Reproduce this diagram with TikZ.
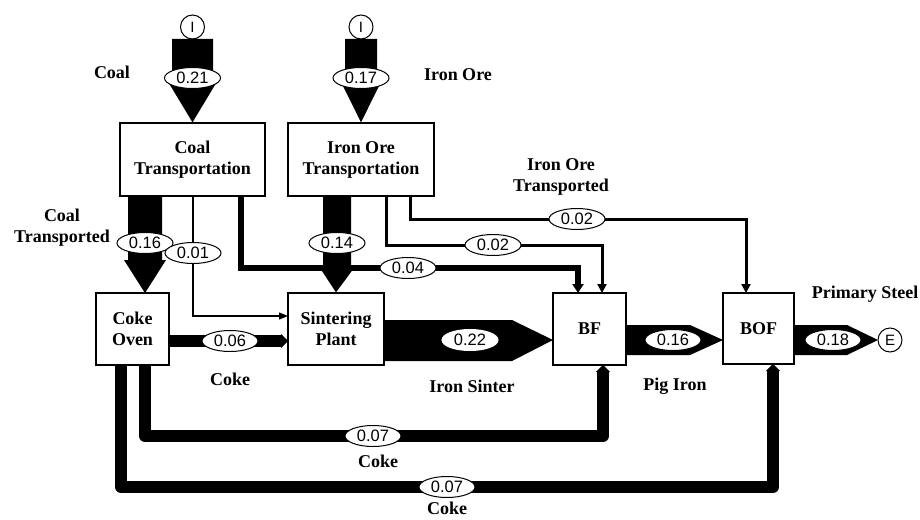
\documentclass[tikz,border=0pt]{standalone}
\usepackage{fontspec}
\setmainfont{Liberation Serif}
\newfontfamily\numfont{Liberation Sans}
\usetikzlibrary{arrows.meta,shapes.geometric}
\begin{document}
\begin{tikzpicture}[x=1pt,y=-1pt,
  proc/.style={draw, line width=1.3pt, fill=white, align=center, inner sep=0pt, font=\fontsize{18}{21}\selectfont\bfseries},
  lbl/.style={align=center, inner sep=0pt, font=\fontsize{18}{21}\selectfont\bfseries},
  val/.style={ellipse, draw, line width=1pt, fill=white, inner sep=0pt, minimum width=56pt, minimum height=21pt, font=\numfont\fontsize{16.5}{16.5}\selectfont},
  term/.style={circle, draw, line width=1pt, fill=white, inner sep=0pt, minimum size=24pt, font=\numfont\fontsize{15}{15}\selectfont},
  thinflow/.style={line width=1.2pt, -{Triangle[length=9pt,width=7pt]}},
  midflow/.style={line width=3pt, -{Triangle[length=9pt,width=9pt]}},
  wideflow/.style={line width=6pt, -{Triangle[length=9pt,width=11pt]}},
  thickflow/.style={line width=12pt, line join=round, -{Triangle[length=7pt,width=14pt]}},
]
\useasboundingbox (0,0) rectangle (920,519);

% process boxes
\node[proc, minimum width=145pt, minimum height=73pt] (ct) at (192.5,159.5) {Coal\\Transportation};
\node[proc, minimum width=146pt, minimum height=73pt] (iot) at (361,159.5) {Iron Ore\\Transportation};
\node[proc, minimum width=73pt, minimum height=72pt] (co) at (132.5,329) {Coke\\Oven};
\node[proc, minimum width=96pt, minimum height=72pt] (sp) at (336,329) {Sintering\\Plant};
\node[proc, minimum width=73pt, minimum height=72pt] (bf) at (589.5,329) {BF};
\node[proc, minimum width=71pt, minimum height=71pt] (bof) at (758.5,328.5) {BOF};

% inputs
\node[term] (in1) at (192.5,27) {I};
\node[term] (in2) at (361,27) {I};
\fill (172,39) -- (213,39) -- (213,80) -- (218,80) -- (ct.north) -- (167,80) -- (172,80) -- cycle;
\fill (345,39) -- (377,39) -- (377,80) -- (382,80) -- (iot.north) -- (340,80) -- (345,80) -- cycle;
\node[val] (v021) at (192.5,78) {0.21};
\node[val] (v017) at (361,78) {0.17};

% coal transported
\fill (128,196) -- (162,196) -- (162,260) -- (166,260) -- (145,293) -- (124,260) -- (128,260) -- cycle;
\coordinate (c01a) at (193,196);
\coordinate (c01b) at (288,316);
\draw[thinflow] (c01a) |- (c01b);
\coordinate (c04a) at (241,196);
\coordinate (c04b) at (578,268);
\coordinate (c04c) at (578,293);
\draw[wideflow] (c04a) |- (c04b) -- (c04c);

% iron ore transported
\fill (323,196) -- (351,196) -- (351,268) -- (354,268) -- (sp.north) -- (320,268) -- (323,268) -- cycle;
\coordinate (c02a) at (386,196);
\coordinate (c02b) at (602,245);
\coordinate (c02c) at (602,293);
\draw[midflow] (c02a) |- (c02b) -- (c02c);
\coordinate (c02d) at (410,196);
\coordinate (c02e) at (746,219);
\coordinate (c02f) at (746,293);
\draw[midflow] (c02d) |- (c02e) -- (c02f);

\node[val] (v016) at (145,243) {0.16};
\node[val] (v001) at (193,253) {0.01};
\node[val] (v014) at (337,243) {0.14};
\node[val] (v004) at (408,268) {0.04};
\node[val] (v002a) at (493,245) {0.02};
\node[val] (v002b) at (577,219) {0.02};

% coke to sintering
\coordinate (c06a) at (169,341);
\coordinate (c06b) at (288,341);
\draw[thickflow] (c06a) -- (c06b);
\node[val] (v006) at (230,341) {0.06};

% iron sinter
\fill (384,320) -- (512,320) -- (553,340) -- (512,361) -- (384,361) -- cycle;
\node[val, draw=white] (v022) at (470,340) {0.22};

% pig iron
\fill (626,325) -- (690,325) -- (723,340) -- (690,355) -- (626,355) -- cycle;
\node[val] (v016b) at (673,340) {0.16};

% primary steel
\fill (794,325) -- (847,325) -- (878,340) -- (847,355) -- (794,355) -- cycle;
\node[term] (out) at (890,340) {E};
\node[val] (v018) at (833,340) {0.18};

% coke loops
\coordinate (l1a) at (145,365);
\coordinate (l1b) at (603,436);
\coordinate (l1c) at (603,365);
\draw[thickflow] (l1a) |- (l1b) -- (l1c);
\coordinate (l2a) at (121,365);
\coordinate (l2b) at (773,487);
\coordinate (l2c) at (773,364);
\draw[thickflow] (l2a) |- (l2b) -- (l2c);
\node[val] (v007a) at (373,436) {0.07};
\node[val] (v007b) at (447,487) {0.07};

% text labels
\node[lbl] (tcoal) at (112,72) {Coal};
\node[lbl] (tore) at (458,75) {Iron Ore};
\node[lbl] (tct) at (62,228) {Coal\\Transported};
\node[lbl] (tiot) at (561,177) {Iron Ore\\Transported};
\node[lbl] (tcoke1) at (230,379) {Coke};
\node[lbl] (tsinter) at (472,386) {Iron Sinter};
\node[lbl] (tpig) at (675,386) {Pig Iron};
\node[lbl] (tsteel) at (865,294) {Primary Steel};
\node[lbl] (tcoke2) at (378,461) {Coke};
\node[lbl] (tcoke3) at (447,508) {Coke};
\end{tikzpicture}
\end{document}
